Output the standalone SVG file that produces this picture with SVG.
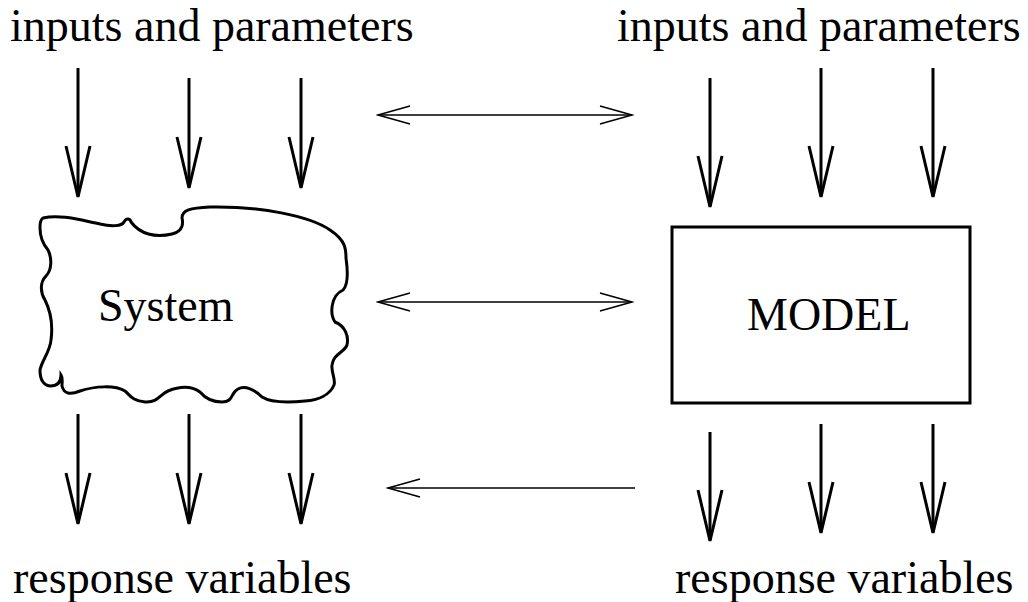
<svg xmlns="http://www.w3.org/2000/svg" width="1028" height="602" viewBox="0 0 1028 602">
  <style>
    text { font-family: 'Liberation Serif', 'DejaVu Serif', serif; font-size: 46px; fill: #000; }
    .flow { stroke: #000; stroke-width: 3; fill: none; stroke-linecap: butt; }
    .link { stroke: #000; stroke-width: 1.6; fill: none; }
    .shape { stroke: #000; stroke-width: 3; fill: #fff; }
  </style>
  <defs>
    <!-- thin open head for the comparison links -->
    <marker id="thin" viewBox="-34 -10 36 20" markerWidth="36" markerHeight="20" refX="0" refY="0" orient="auto-start-reverse" markerUnits="userSpaceOnUse">
      <path d="M -32 -9 L 0 0 L -32 9" fill="none" stroke="#000" stroke-width="1.6"/>
    </marker>
  </defs>

  <!-- labels -->
  <g id="labels">
    <text font-family="Liberation Serif, serif" x="10" y="41">inputs and parameters</text>
    <text font-family="Liberation Serif, serif" x="617" y="41">inputs and parameters</text>
    <text font-family="Liberation Serif, serif" x="13" y="593">response variables</text>
    <text font-family="Liberation Serif, serif" x="675" y="593">response variables</text>
  </g>

  <!-- the real system: irregular outline -->
  <g id="system">
    <path class="shape" d="M 43,218
      C 60,214 80,220 100,224
      C 112,227 122,226 124,222
      C 126,218 130,218 131,222
      C 140,234 155,238 172,234
      C 184,231 183,222 182,218
      C 182,210 190,208 210,207
      C 260,206 310,216 330,230
      C 345,240 346,248 346,258
      C 348,272 348,285 343,290
      C 330,296 330,315 335,322
      C 345,326 349,336 347,345
      C 345,352 333,354 332,365
      C 331,372 336,380 334,385
      C 330,395 318,400 305,401
      C 285,403 270,402 262,397
      C 255,390 245,385 238,389
      C 230,393 234,402 222,402
      C 212,402 205,398 200,392
      C 190,385 178,387 168,391
      C 160,394 158,403 145,402
      C 132,401 130,395 125,391
      C 115,385 95,386 80,391
      C 70,395 64,394 62,386
      C 62,381 63,378 61,375
      C 61,382 58,386 50,386
      C 42,385 40,378 40,370
      C 42,360 50,352 51,340
      C 53,325 50,310 45,300
      C 40,292 40,282 46,276
      C 52,270 52,258 48,250
      C 42,243 40,235 40,228
      C 40,222 41,219 43,218 Z"/>
    <text font-family="Liberation Serif, serif" x="98" y="321">System</text>
  </g>

  <!-- the model -->
  <g id="model">
    <rect class="shape" x="672" y="227" width="298" height="176"/>
    <text font-family="Liberation Serif, serif" x="747" y="330">MODEL</text>
  </g>

  <g id="connectors">
    <!-- inputs into the system -->
    <line class="flow" x1="78" y1="68" x2="78" y2="196"/>
    <path class="flow" d="M 66,146 L 78,197 L 90,146"/>
    <line class="flow" x1="189" y1="78" x2="189" y2="187"/>
    <path class="flow" d="M 177,137 L 189,188 L 201,137"/>
    <line class="flow" x1="301" y1="78" x2="301" y2="187"/>
    <path class="flow" d="M 289,137 L 301,188 L 313,137"/>

    <!-- inputs into the model -->
    <line class="flow" x1="710" y1="78" x2="710" y2="206"/>
    <path class="flow" d="M 698,156 L 710,207 L 722,156"/>
    <line class="flow" x1="821" y1="68" x2="821" y2="196"/>
    <path class="flow" d="M 809,146 L 821,197 L 833,146"/>
    <line class="flow" x1="933" y1="68" x2="933" y2="196"/>
    <path class="flow" d="M 921,146 L 933,197 L 945,146"/>

    <!-- system responses -->
    <line class="flow" x1="78" y1="414" x2="78" y2="523"/>
    <path class="flow" d="M 66,473 L 78,524 L 90,473"/>
    <line class="flow" x1="189" y1="414" x2="189" y2="523"/>
    <path class="flow" d="M 177,473 L 189,524 L 201,473"/>
    <line class="flow" x1="301" y1="414" x2="301" y2="523"/>
    <path class="flow" d="M 289,473 L 301,524 L 313,473"/>

    <!-- model responses -->
    <line class="flow" x1="710" y1="432" x2="710" y2="540"/>
    <path class="flow" d="M 698,490 L 710,541 L 722,490"/>
    <line class="flow" x1="821" y1="424" x2="821" y2="532"/>
    <path class="flow" d="M 809,482 L 821,533 L 833,482"/>
    <line class="flow" x1="933" y1="424" x2="933" y2="532"/>
    <path class="flow" d="M 921,482 L 933,533 L 945,482"/>

    <!-- comparison links between system and model -->
    <line class="link" x1="378" y1="115" x2="632" y2="115" marker-start="url(#thin)" marker-end="url(#thin)"/>
    <line class="link" x1="378" y1="302" x2="632" y2="302" marker-start="url(#thin)" marker-end="url(#thin)"/>
    <line class="link" x1="635" y1="488" x2="388" y2="488" marker-end="url(#thin)"/>
  </g>
</svg>
